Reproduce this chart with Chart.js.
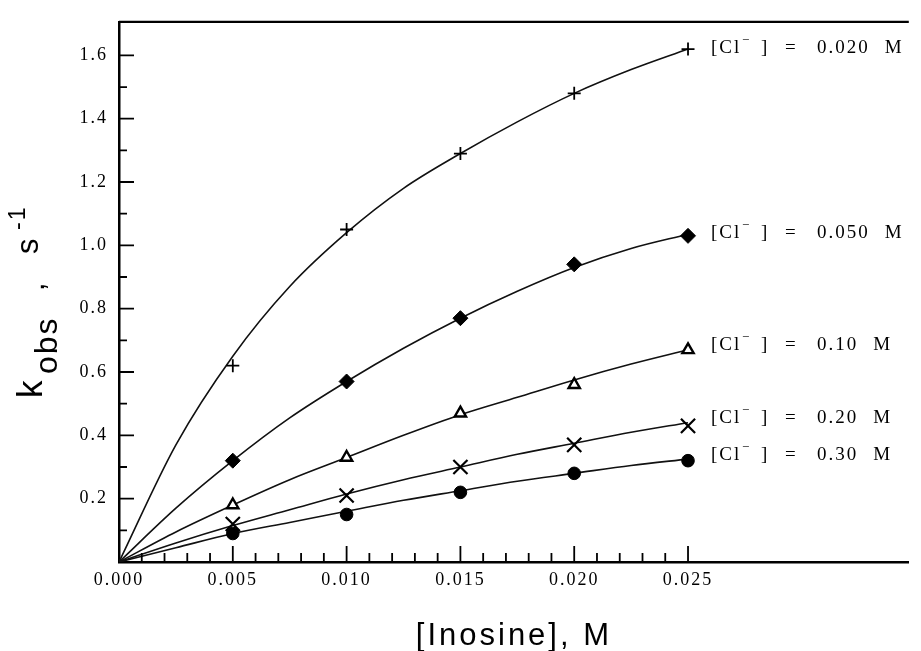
<!DOCTYPE html>
<html>
<head>
<meta charset="utf-8">
<script src="https://cdn.jsdelivr.net/npm/chart.js@4.4.1/dist/chart.umd.min.js"></script>
<style>
  html, body { margin: 0; padding: 0; background: #fff; }
  #wrap { width: 921px; height: 651px; position: relative; }
</style>
</head>
<body>
<div id="wrap"><canvas id="kobsChart"></canvas></div>
<script>
// [Inosine], M for the measured points
const inosine = [0.005, 0.010, 0.015, 0.020, 0.025];
const chlorideLabels = ['0.020', '0.050', '0.10', '0.20', '0.30'];

// measured k_obs, s^-1
const kCl020 = [0.62, 1.05, 1.29, 1.48, 1.62];
const kCl050 = [0.32, 0.57, 0.77, 0.94, 1.03];
const kCl10 = [0.18, 0.33, 0.47, 0.56, 0.67];
const kCl20 = [0.12, 0.21, 0.30, 0.37, 0.43];
const kCl30 = [0.09, 0.15, 0.22, 0.28, 0.32];

// fitted curves, starting at the origin
const curveX = [0, 0.0025, 0.005, 0.0075, 0.010, 0.0125, 0.015, 0.0175, 0.020, 0.0225, 0.025];
const fitCl020 = [0, 0.37, 0.65, 0.87, 1.04, 1.18, 1.29, 1.39, 1.48, 1.555, 1.62];
const fitCl050 = [0, 0.17, 0.32, 0.455, 0.57, 0.675, 0.77, 0.855, 0.93, 0.99, 1.035];
const fitCl10 = [0, 0.095, 0.18, 0.26, 0.33, 0.40, 0.465, 0.52, 0.575, 0.625, 0.67];
const fitCl20 = [0, 0.06, 0.115, 0.165, 0.215, 0.26, 0.30, 0.34, 0.375, 0.41, 0.44];
const fitCl30 = [0, 0.045, 0.09, 0.125, 0.16, 0.195, 0.225, 0.255, 0.28, 0.305, 0.325];

const xTicks = [0.000, 0.005, 0.010, 0.015, 0.020, 0.025];
const yTicks = [0.2, 0.4, 0.6, 0.8, 1.0, 1.2, 1.4, 1.6];

const markerSeries = [kCl020, kCl050, kCl10, kCl20, kCl30];
const curveSeries = [fitCl020, fitCl050, fitCl10, fitCl20, fitCl30];

// style only
const markerStyles = [
    { pointStyle: 'cross', pointRadius: 6.5, borderWidth: 1.8, fill: '#000' },
    { pointStyle: 'rectRot', pointRadius: 7.5, borderWidth: 1, fill: '#000' },
    { pointStyle: 'triangle', pointRadius: 6.5, borderWidth: 2.4, fill: '#fff' },
    { pointStyle: 'crossRot', pointRadius: 10, borderWidth: 2.2, fill: '#000' },
    { pointStyle: 'circle', pointRadius: 6.3, borderWidth: 1, fill: '#000' }
];
const labelDy = [-1, -3, -5, -8, -6];

const toXY = (xs, ys) => xs.map((x, i) => ({ x: x, y: ys[i] }));

const datasets = [];
markerSeries.forEach((vals, i) => {
    const s = markerStyles[i];
    datasets.push({
        label: '[Cl-] = ' + chlorideLabels[i] + ' M',
        data: toXY(inosine, vals),
        showLine: false,
        pointStyle: s.pointStyle,
        pointRadius: s.pointRadius,
        pointBorderWidth: s.borderWidth,
        pointBorderColor: '#000',
        pointBackgroundColor: s.fill
    });
});
curveSeries.forEach((vals) => {
    datasets.push({
        type: 'line',
        data: toXY(curveX, vals),
        borderColor: '#111',
        borderWidth: 1.6,
        pointRadius: 0,
        fill: false,
        cubicInterpolationMode: 'monotone'
    });
});

const axisDecor = {
    id: 'axisDecor',
    beforeDraw(chart) {
        chart.ctx.letterSpacing = '2px';
    },
    afterDraw(chart) {
        const ctx = chart.ctx;
        const area = chart.chartArea;
        const xs = chart.scales.x, ys = chart.scales.y;
        ctx.save();
        ctx.strokeStyle = '#000';
        ctx.fillStyle = '#000';

        // top frame line
        ctx.lineWidth = 2.2;
        ctx.beginPath();
        ctx.moveTo(area.left, area.top);
        ctx.lineTo(area.right, area.top);
        ctx.stroke();

        // inward tick marks
        ctx.lineWidth = 1.8;
        ctx.beginPath();
        for (let i = 1; i <= 25; i++) {
            const px = xs.getPixelForValue(i * 0.001);
            const len = i % 5 === 0 ? 16 : 9;
            ctx.moveTo(px, area.bottom);
            ctx.lineTo(px, area.bottom - len);
        }
        for (let i = 1; i <= 16; i++) {
            const py = ys.getPixelForValue(i * 0.1);
            const len = i % 2 === 0 ? 15 : 8;
            ctx.moveTo(area.left, py);
            ctx.lineTo(area.left + len, py);
        }
        ctx.stroke();

        // series labels next to the last point
        ctx.textBaseline = 'middle';
        ctx.textAlign = 'left';
        ctx.letterSpacing = '2px';
        chlorideLabels.forEach((lab, i) => {
            const meta = chart.getDatasetMeta(i);
            const pt = meta.data[meta.data.length - 1];
            const x0 = pt.x + 23;
            const y0 = pt.y + labelDy[i];
            ctx.font = '19px "Liberation Serif"';
            ctx.fillText('[Cl', x0, y0);
            ctx.fillText(']', x0 + 50, y0);
            ctx.fillText('=', x0 + 74, y0);
            ctx.fillText(lab, x0 + 106, y0);
            const w = ctx.measureText(lab).width;
            ctx.fillText('M', x0 + 106 + w + 15, y0);
            ctx.font = '13px "Liberation Serif"';
            ctx.fillText('\u2212', x0 + 31, y0 - 7);
        });

        // x title
        ctx.letterSpacing = '3px';
        ctx.font = '31px "Liberation Sans"';
        ctx.textAlign = 'center';
        ctx.textBaseline = 'alphabetic';
        ctx.fillText('[Inosine], M', (area.left + area.right) / 2, 645);

        // y title, rotated, pieces placed by hand
        ctx.textAlign = 'left';
        ctx.letterSpacing = '2px';
        const piece = (txt, font, bx, by) => {
            ctx.save();
            ctx.translate(bx, by);
            ctx.rotate(-Math.PI / 2);
            ctx.font = font;
            ctx.fillText(txt, 0, 0);
            ctx.restore();
        };
        piece('k', '35px "Liberation Sans"', 42, 398);
        piece('obs', '32px "Liberation Sans"', 57, 374);
        piece(',', '30px "Liberation Sans"', 44, 291);
        piece('s', '31px "Liberation Sans"', 38, 254);
        piece('-1', '23px "Liberation Sans"', 25, 230);

        ctx.restore();
    }
};

new Chart(document.getElementById('kobsChart'), {
    type: 'scatter',
    data: { datasets: datasets },
    options: {
        responsive: true,
        maintainAspectRatio: false,
        animation: false,
        layout: { padding: { top: 16, right: 0, left: 0, bottom: 0 } },
        plugins: {
            legend: { display: false },
            tooltip: { enabled: false }
        },
        scales: {
            x: {
                type: 'linear',
                min: 0,
                max: 0.0347,
                afterBuildTicks: (scale) => { scale.ticks = xTicks.map(v => ({ value: v })); },
                afterFit: (scale) => { scale.height = 89; },
                ticks: {
                    padding: 7,
                    color: '#000',
                    font: { family: 'Liberation Serif', size: 18 },
                    callback: (v) => Number(v).toFixed(3)
                },
                grid: { display: false, drawTicks: false },
                border: { display: true, color: '#000', width: 2.5 }
            },
            y: {
                type: 'linear',
                min: 0,
                max: 1.706,
                afterBuildTicks: (scale) => { scale.ticks = yTicks.map(v => ({ value: v })); },
                afterFit: (scale) => { scale.width = 119; },
                ticks: {
                    padding: 11,
                    color: '#000',
                    font: { family: 'Liberation Serif', size: 18 },
                    callback: (v) => Number(v).toFixed(1)
                },
                grid: { display: false, drawTicks: false },
                border: { display: true, color: '#000', width: 2.5 }
            }
        }
    },
    plugins: [axisDecor]
});
</script>
</body>
</html>
